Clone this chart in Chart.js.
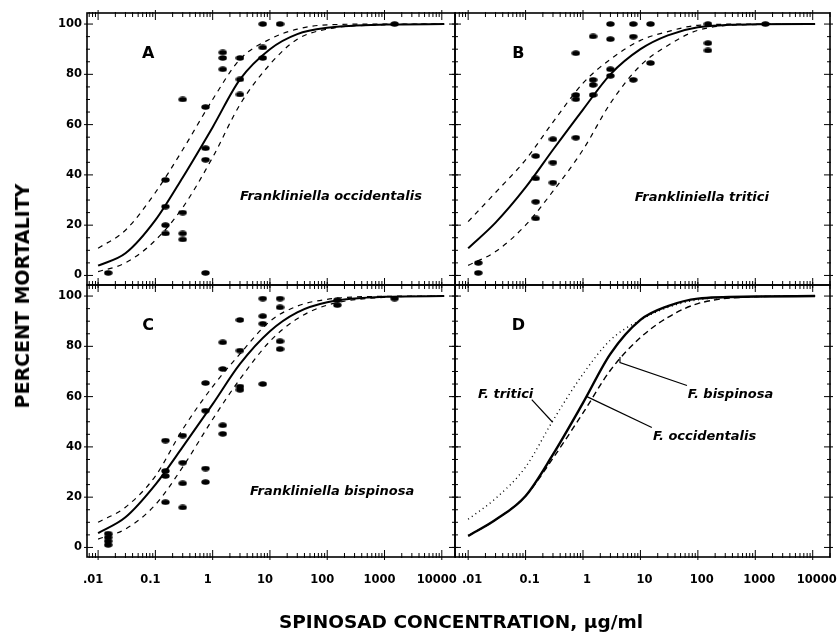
<!DOCTYPE html>
<html>
<head>
<meta charset="utf-8">
<title>Spinosad mortality</title>
<script src="https://cdn.jsdelivr.net/npm/chart.js@4.4.0/dist/chart.umd.min.js"></script>
<style>
  body { margin: 0; background: #fff; }
  #figure { position: relative; width: 838px; height: 640px; font-family: "DejaVu Sans", sans-serif; font-weight: bold; color: #000; }
  #figure canvas { position: absolute; left: 0; top: 0; }
  .ytitle { position: absolute; left: 22px; top: 296px; transform: translate(-50%, -50%) rotate(-90deg); font-size: 19px; white-space: nowrap; }
  .xtitle { position: absolute; left: 461px; top: 621px; transform: translate(-50%, -50%); font-size: 18.5px; white-space: nowrap; }
</style>
</head>
<body>
<div id="figure">
  <canvas id="panelA" width="838" height="640"></canvas>
  <canvas id="panelB" width="838" height="640"></canvas>
  <canvas id="panelC" width="838" height="640"></canvas>
  <canvas id="panelD" width="838" height="640"></canvas>
  <div class="ytitle">PERCENT MORTALITY</div>
  <div class="xtitle">SPINOSAD CONCENTRATION, µg/ml</div>
</div>
<script>
// axis ticks
const xTickValues = [0.01, 0.1, 1, 10, 100, 1000, 10000]
const xTickLabels = ['.01', '0.1', '1', '10', '100', '1000', '10000']
const yTickValues = [0, 20, 40, 60, 80, 100]

const curveX = [0.01, 0.03, 0.1, 0.3, 1, 3, 10, 30, 100, 1000, 11000]

// A - Frankliniella occidentalis
const occFit = [3.9, 8.8, 22, 39, 59, 78, 90, 96, 98.5, 99.8, 100]
const occUpper = [10.8, 18, 33, 50, 70, 86, 94, 98, 99.7, 100, 100]
const occLower = [1.5, 5, 14, 27, 47, 68, 84, 94, 98, 99.7, 100]
const occDoses = [0.015, 0.15, 0.3, 0.75, 1.5, 3, 7.5, 15, 1500]
const occMortality = [[1], [38, 27.4, 20, 16.7], [70, 25, 16.7, 14.3], [67, 50.6, 46, 1],
  [88.7, 86.5, 82], [86.5, 78, 72], [100, 90.7, 86.5], [100], [100]]

// B - Frankliniella tritici
const triFit = [10.8, 21, 35, 50, 66, 80, 90, 95.5, 98.7, 99.9, 100]
const triUpper = [21.4, 33, 46, 61, 76.5, 86, 93.5, 97, 99.5, 100, 100]
const triLower = [4, 9.5, 20, 33.5, 50, 68.5, 83.5, 91.5, 97.5, 99.8, 100]
const triDoses = [0.015, 0.15, 0.3, 0.75, 1.5, 3, 7.5, 15, 150, 1500]
const triMortality = [[1, 5], [47.5, 38.6, 29.3, 22.7], [54.2, 44.9, 36.9], [88.4, 71.8, 70.1, 54.8],
  [95.1, 77.8, 75.8, 71.8], [100, 94, 82, 79.4], [100, 95, 77.8], [100, 84.5], [100, 92.4, 89.5], [100]]

// C - Frankliniella bispinosa
const bisFit = [5.7, 12, 25, 40, 57, 73, 86, 93.5, 97.5, 99.7, 100]
const bisUpper = [10, 16, 28.4, 47, 64, 77, 90, 96, 98.7, 99.9, 100]
const bisLower = [3.3, 7.3, 17, 32, 51, 67, 82, 91, 96.4, 99.5, 100]
const bisDoses = [0.015, 0.15, 0.3, 0.75, 1.5, 3, 7.5, 15, 150, 1500]
const bisMortality = [[5.5, 4, 2.5, 1], [42.5, 30.4, 28.4, 18], [44.5, 33.7, 25.5, 15.9], [65.4, 54.4, 31.4, 26],
  [81.6, 71, 48.6, 45.2], [90.5, 78.3, 64, 62.7], [99, 92, 89, 65], [99, 95.5, 82, 78.9], [98.4, 96.4], [99]]

// D - the three fitted curves together
const cmpOcc = [4.6, 11, 20.5, 37, 57.5, 77, 90.5, 96, 99, 99.8, 100]
const cmpBis = [4.6, 11, 20.5, 35.5, 53.5, 70.5, 83.5, 91.5, 97, 99.7, 100]
const cmpTri = [11.2, 19.5, 32, 50.5, 69, 82.5, 90.5, 95.5, 98.5, 99.8, 100]

const tickFont = { family: 'DejaVu Sans', size: 11.5, weight: 'bold' }
const letterFont = 'bold 16px "DejaVu Sans"'
const nameFont = 'italic bold 13px "DejaVu Sans"'

// filled oval used for the observations
function makeDot () {
  const c = document.createElement('canvas')
  c.width = 9
  c.height = 6
  const g = c.getContext('2d')
  g.fillStyle = '#000'
  g.beginPath()
  g.ellipse(4.5, 3, 4.2, 2.8, 0, 0, Math.PI * 2)
  g.fill()
  return c
}
const dot = makeDot()

// box round the plot area with ticks crossing every side
const frameTicks = {
  id: 'frameTicks',
  afterDatasetsDraw (chart) {
    const ctx = chart.ctx
    const a = chart.chartArea
    const x = chart.scales.x
    const y = chart.scales.y
    function seg (x1, y1, x2, y2) {
      ctx.beginPath()
      ctx.moveTo(x1, y1)
      ctx.lineTo(x2, y2)
      ctx.stroke()
    }
    ctx.save()
    ctx.strokeStyle = '#000'
    ctx.lineWidth = 1.6
    ctx.strokeRect(a.left, a.top, a.right - a.left, a.bottom - a.top)
    ctx.lineWidth = 1
    for (let v = 0; v <= 100; v += 5) {
      const py = y.getPixelForValue(v)
      const major = yTickValues.indexOf(v) >= 0
      const inner = major ? 6 : 3
      const outer = major ? 3 : 1
      seg(a.left - outer, py, a.left + inner, py)
      seg(a.right - inner, py, a.right + outer, py)
    }
    for (let n = -3; n <= 4; n++) {
      for (let k = 1; k <= 9; k++) {
        const v = k * Math.pow(10, n)
        if (v < x.min || v > x.max) continue
        const px = x.getPixelForValue(v)
        const inner = k === 1 ? 7 : 4
        const outer = k === 1 ? 3 : 1
        seg(px, a.top - outer, px, a.top + inner)
        seg(px, a.bottom - inner, px, a.bottom + outer)
      }
    }
    ctx.restore()
  }
}

// panel letter, species names and leader lines, placed in data units
function notesPlugin (notes) {
  return {
    id: 'notes',
    afterDraw (chart) {
      const ctx = chart.ctx
      const x = chart.scales.x
      const y = chart.scales.y
      ctx.save()
      ctx.fillStyle = '#000'
      ctx.strokeStyle = '#000'
      ctx.lineWidth = 1.2
      ctx.textBaseline = 'middle'
      notes.texts.forEach(t => {
        ctx.font = t.font
        ctx.textAlign = t.align
        ctx.fillText(t.text, x.getPixelForValue(t.x), y.getPixelForValue(t.y))
      })
      notes.leaders.forEach(path => {
        ctx.beginPath()
        path.forEach((p, i) => {
          const px = x.getPixelForValue(p[0])
          const py = y.getPixelForValue(p[1])
          if (i === 0) ctx.moveTo(px, py)
          else ctx.lineTo(px, py)
        })
        ctx.stroke()
      })
      ctx.restore()
    }
  }
}

function curveSet (values, width, dash) {
  return {
    data: curveX.map((cx, i) => ({ x: cx, y: values[i] })),
    showLine: true,
    pointRadius: 0,
    borderColor: '#000',
    borderWidth: width,
    borderDash: dash,
    cubicInterpolationMode: 'monotone',
    fill: false
  }
}

function pointSet (doses, mortality) {
  const pts = []
  doses.forEach((d, i) => {
    mortality[i].forEach(m => pts.push({ x: d, y: m }))
  })
  return {
    data: pts,
    showLine: false,
    pointStyle: dot,
    pointRadius: 4,
    backgroundColor: '#000',
    borderColor: '#000'
  }
}

// fixed axis boxes so that all four plot areas line up
function fixBox (s, size) {
  if (s.isHorizontal()) s.height = size
  else s.width = size
  s.paddingLeft = 0
  s.paddingRight = 0
  s.paddingTop = 0
  s.paddingBottom = 0
}

function makePanel (canvasId, p) {
  new Chart(document.getElementById(canvasId), {
    type: 'scatter',
    data: { datasets: p.datasets },
    options: {
      responsive: false,
      animation: false,
      devicePixelRatio: 1,
      events: [],
      layout: { padding: p.padding },
      plugins: { legend: { display: false }, tooltip: { enabled: false } },
      scales: {
        x: {
          type: 'logarithmic',
          min: p.xMin,
          max: p.xMax,
          display: p.showX,
          grid: { display: false, drawTicks: false },
          border: { display: false },
          afterBuildTicks: s => { s.ticks = xTickValues.map(v => ({ value: v })) },
          afterFit: s => fixBox(s, p.showX ? 40 : 0),
          ticks: {
            padding: 16,
            labelOffset: p.labelShift || 0,
            autoSkip: false,
            maxRotation: 0,
            color: '#000',
            font: tickFont,
            callback: (v, i) => xTickLabels[i]
          }
        },
        y: {
          min: -3.8,
          max: 104.4,
          display: p.showY,
          grid: { display: false, drawTicks: false },
          border: { display: false },
          afterBuildTicks: s => { s.ticks = yTickValues.map(v => ({ value: v })) },
          afterFit: s => fixBox(s, p.showY ? 40 : 0),
          ticks: {
            padding: 5,
            color: '#000',
            font: tickFont,
            callback: (v, i) => yTickValues[i]
          }
        }
      }
    },
    plugins: [frameTicks, notesPlugin(p.notes)]
  })
}

function letter (ch) {
  return { text: ch, x: 0.075, y: 88, font: letterFont, align: 'center' }
}

makePanel('panelA', {
  padding: { left: 47, top: 13, right: 383, bottom: 355 },
  xMin: 0.0064, xMax: 17000, showX: false, showY: true,
  datasets: [
    curveSet(occUpper, 1.2, [5, 5]),
    curveSet(occLower, 1.2, [5, 5]),
    curveSet(occFit, 2, []),
    pointSet(occDoses, occMortality)
  ],
  notes: {
    texts: [letter('A'), { text: 'Frankliniella occidentalis', x: 3.0, y: 31.2, font: nameFont, align: 'left' }],
    leaders: []
  }
})

makePanel('panelB', {
  padding: { left: 455, top: 13, right: 8, bottom: 355 },
  xMin: 0.0059, xMax: 20000, showX: false, showY: false,
  datasets: [
    curveSet(triUpper, 1.2, [5, 5]),
    curveSet(triLower, 1.2, [5, 5]),
    curveSet(triFit, 2, []),
    pointSet(triDoses, triMortality)
  ],
  notes: {
    texts: [letter('B'), { text: 'Frankliniella tritici', x: 8.0, y: 30.8, font: nameFont, align: 'left' }],
    leaders: []
  }
})

makePanel('panelC', {
  padding: { left: 47, top: 285, right: 383, bottom: 43 },
  xMin: 0.0064, xMax: 17000, showX: true, showY: true, labelShift: -5,
  datasets: [
    curveSet(bisUpper, 1.2, [5, 5]),
    curveSet(bisLower, 1.2, [5, 5]),
    curveSet(bisFit, 2, []),
    pointSet(bisDoses, bisMortality)
  ],
  notes: {
    texts: [letter('C'), { text: 'Frankliniella bispinosa', x: 4.5, y: 22.3, font: nameFont, align: 'left' }],
    leaders: []
  }
})

makePanel('panelD', {
  padding: { left: 455, top: 285, right: 8, bottom: 43 },
  xMin: 0.0059, xMax: 20000, showX: true, showY: false, labelShift: 4,
  datasets: [
    curveSet(cmpTri, 1.4, [1, 3.5]),
    curveSet(cmpBis, 1.4, [6, 4]),
    curveSet(cmpOcc, 2.4, [])
  ],
  notes: {
    texts: [
      letter('D'),
      { text: 'F. tritici', x: 0.0148, y: 60.8, font: nameFont, align: 'left' },
      { text: 'F. bispinosa', x: 67, y: 60.8, font: nameFont, align: 'left' },
      { text: 'F. occidentalis', x: 16.5, y: 44.1, font: nameFont, align: 'left' }
    ],
    leaders: [
      [[0.128, 58.8], [0.296, 49.8]],
      [[64.6, 64.4], [4.4, 73.5], [4.4, 75.8]],
      [[15.8, 47.7], [1.17, 60]]
    ]
  }
})
</script>
</body>
</html>
